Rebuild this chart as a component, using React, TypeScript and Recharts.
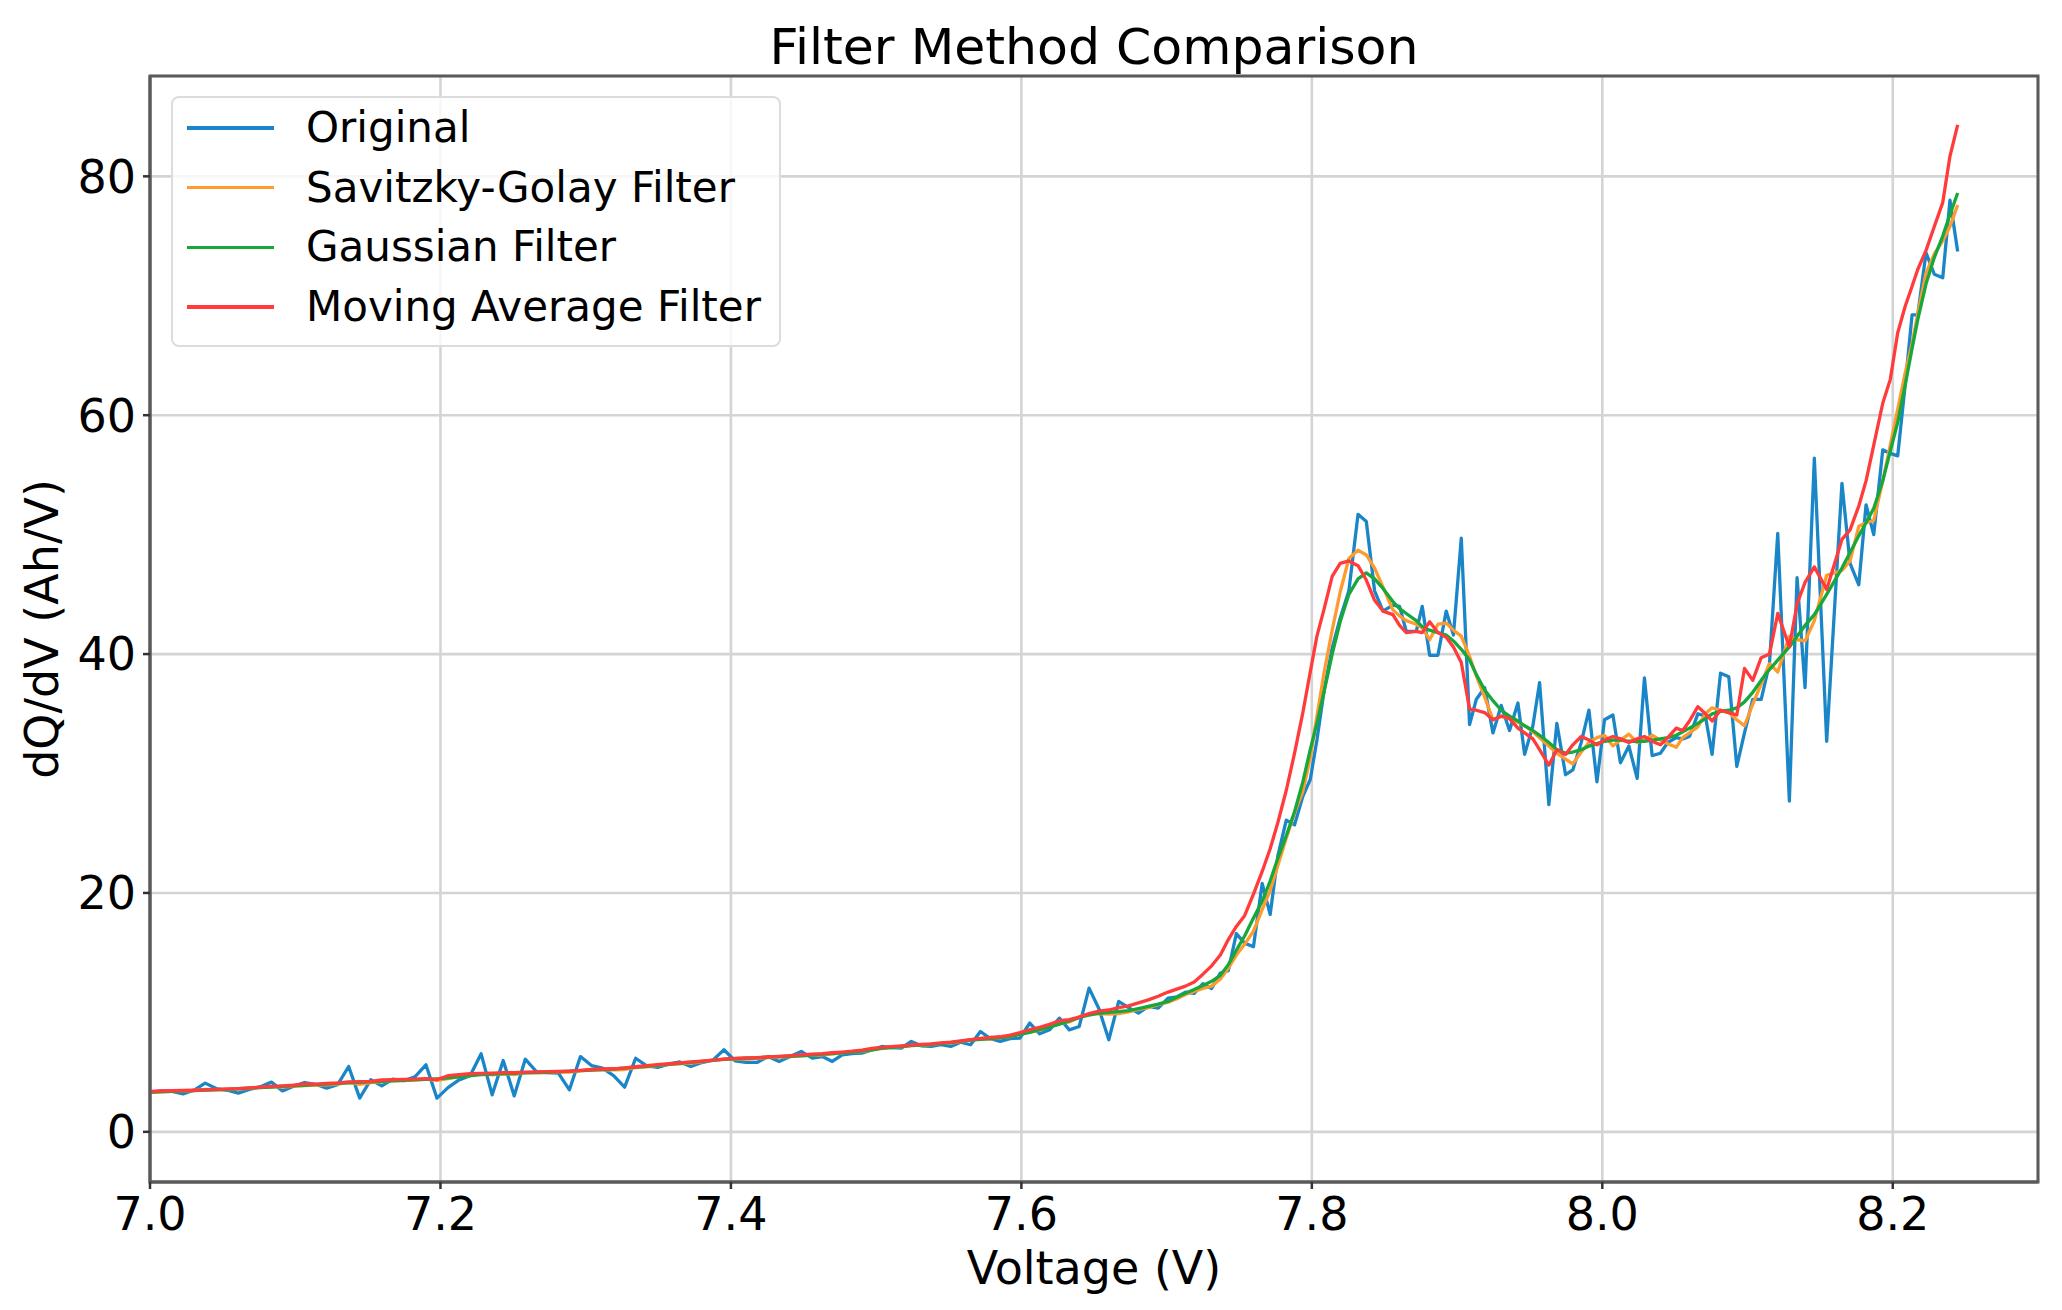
import { LineChart, Line, XAxis, YAxis, CartesianGrid, Legend, ReferenceArea } from 'recharts';

// Voltage (V) of each sample (spacing narrows where dQ/dV is high)
const voltage = [
  // 7.00 - 7.46
  7.0000, 7.0076, 7.0152, 7.0228, 7.0304, 7.0380, 7.0456, 7.0532, 7.0608, 7.0684,
  7.0760, 7.0836, 7.0912, 7.0988, 7.1064, 7.1140, 7.1216, 7.1292, 7.1368, 7.1444,
  7.1520, 7.1596, 7.1672, 7.1748, 7.1824, 7.1900, 7.1976, 7.2052, 7.2128, 7.2204,
  7.2280, 7.2356, 7.2432, 7.2508, 7.2584, 7.2660, 7.2736, 7.2812, 7.2888, 7.2964,
  7.3040, 7.3116, 7.3192, 7.3268, 7.3344, 7.3420, 7.3496, 7.3572, 7.3648, 7.3724,
  7.3800, 7.3876, 7.3952, 7.4028, 7.4104, 7.4180, 7.4256, 7.4332, 7.4408, 7.4484,
  7.4560,
  // 7.46 - 7.70
  7.4630, 7.4698, 7.4766, 7.4834, 7.4902, 7.4970, 7.5038, 7.5106, 7.5174, 7.5242,
  7.5310, 7.5378, 7.5446, 7.5514, 7.5582, 7.5650, 7.5718, 7.5786, 7.5854, 7.5922,
  7.5990, 7.6058, 7.6126, 7.6194, 7.6262, 7.6330, 7.6398, 7.6466, 7.6534, 7.6602,
  7.6670, 7.6738, 7.6806, 7.6874, 7.6942, 7.7010,
  // 7.70 - 7.80
  7.7070, 7.7130, 7.7190, 7.7250, 7.7310, 7.7370, 7.7425, 7.7480, 7.7537, 7.7598,
  7.7658, 7.7713, 7.7766, 7.7824, 7.7881, 7.7938, 7.7989,
  // 7.80 - 8.245
  7.8035, 7.8085, 7.8140, 7.8195, 7.8255, 7.8318, 7.8375, 7.8432, 7.8490, 7.8558,
  7.8604, 7.8650, 7.8719, 7.8760, 7.8811, 7.8868, 7.8925, 7.8975, 7.9029, 7.9086,
  7.9132, 7.9190, 7.9247, 7.9304, 7.9361, 7.9419, 7.9465, 7.9522, 7.9568, 7.9632,
  7.9687, 7.9747, 7.9797, 7.9855, 7.9908, 7.9963, 8.0015, 8.0073, 8.0125, 8.0183,
  8.0240, 8.0290, 8.0343, 8.0400, 8.0451, 8.0509, 8.0554, 8.0600, 8.0658, 8.0710,
  8.0756, 8.0814, 8.0871, 8.0926, 8.0979, 8.1036, 8.1094, 8.1151, 8.1208, 8.1288,
  8.1341, 8.1396, 8.1460, 8.1545, 8.1650, 8.1706, 8.1766, 8.1816, 8.1869, 8.1931,
  8.1983, 8.2034, 8.2085, 8.2133, 8.2172, 8.2229, 8.2286, 8.2344, 8.2394, 8.2447,
];

const original = [
  3.30, 3.42, 3.38, 3.18, 3.50, 4.08, 3.62, 3.48, 3.24, 3.55,
  3.78, 4.16, 3.43, 3.82, 4.13, 3.98, 3.66, 3.95, 5.47, 2.82,
  4.36, 3.85, 4.42, 4.28, 4.60, 5.61, 2.82, 3.70, 4.35, 4.70,
  6.53, 3.10, 5.97, 3.01, 6.08, 5.05, 4.96, 4.91, 3.52, 6.30,
  5.55, 5.33, 4.70, 3.74, 6.16, 5.52, 5.40, 5.67, 5.85, 5.47,
  5.80, 6.00, 6.87, 5.95, 5.81, 5.81, 6.31, 5.89, 6.30, 6.73,
  6.17,
  6.30, 5.89, 6.45, 6.55, 6.59, 6.85, 7.15, 7.05, 7.01, 7.57,
  7.20, 7.15, 7.30, 7.15, 7.50, 7.29, 8.40, 7.80, 7.57, 7.80,
  7.85, 9.11, 8.21, 8.54, 9.52, 8.54, 8.82, 12.03, 10.30, 7.71,
  10.92, 10.40, 9.94, 10.50, 10.36, 11.20,
  11.30, 11.70, 11.60, 12.40, 12.00, 13.30, 13.50, 16.60, 15.80, 15.50,
  20.80, 18.20, 23.10, 26.10, 25.70, 28.10, 29.50,
  32.8, 37.0, 40.5, 43.0, 45.3, 51.7, 51.1, 45.3, 43.6, 44.1,
  44.0, 41.9, 41.9, 44.0, 39.9, 39.9, 43.6, 41.6, 49.7, 34.1,
  36.2, 37.2, 33.4, 35.7, 33.6, 35.9, 31.6, 34.0, 37.6, 27.4,
  34.2, 29.9, 30.3, 32.6, 35.3, 29.3, 34.5, 34.9, 30.9, 32.3,
  29.6, 38.0, 31.5, 31.7, 32.6, 33.0, 32.9, 33.1, 35.0, 34.8,
  31.6, 38.4, 38.1, 30.6, 33.4, 36.2, 36.2, 39.2, 50.1, 27.7,
  46.4, 37.2, 56.4, 32.7, 54.3, 47.6, 45.8, 52.5, 50.0, 57.1,
  56.8, 56.6, 62.5, 68.4, 68.4, 73.6, 71.8, 71.5, 78.0, 73.7,
];

const savitzkyGolay = [
  3.30, 3.36, 3.38, 3.38, 3.46, 3.55, 3.54, 3.54, 3.58, 3.64,
  3.72, 3.78, 3.74, 3.82, 3.88, 3.92, 3.94, 4.00, 4.15, 3.98,
  4.12, 4.18, 4.30, 4.28, 4.36, 4.42, 4.30, 4.45, 4.62, 4.70,
  4.86, 4.78, 4.88, 4.80, 4.95, 4.95, 4.96, 5.00, 5.00, 5.10,
  5.18, 5.20, 5.18, 5.22, 5.38, 5.45, 5.55, 5.64, 5.70, 5.75,
  5.86, 6.00, 6.08, 6.08, 6.10, 6.15, 6.22, 6.25, 6.30, 6.38,
  6.40,
  6.45, 6.52, 6.62, 6.70, 6.72, 6.85, 7.00, 7.08, 7.12, 7.24,
  7.25, 7.30, 7.40, 7.42, 7.55, 7.70, 7.78, 7.76, 7.88, 7.98,
  8.18, 8.38, 8.50, 8.80, 9.05, 9.20, 9.62, 9.85, 9.90, 9.85,
  9.90, 10.05, 10.25, 10.40, 10.65, 10.85,
  11.15, 11.50, 11.75, 12.00, 12.20, 12.80, 13.70, 14.80, 15.70, 16.80,
  18.60, 20.20, 22.30, 24.60, 26.70, 28.50, 31.30,
  34.8, 38.5, 42.0, 45.2, 48.0, 48.7, 48.3, 47.2, 45.6, 43.7,
  43.2, 42.8, 42.5, 42.2, 41.2, 42.5, 42.6, 42.0, 41.5, 39.8,
  38.2, 36.4, 34.5, 34.8, 34.6, 34.3, 34.0, 33.5, 33.0, 32.3,
  31.7, 31.2, 30.8, 31.8, 32.6, 33.0, 33.2, 32.3, 32.8, 33.3,
  32.6, 32.8, 33.2, 32.8, 32.5, 32.2, 33.0, 33.4, 33.9, 35.0,
  35.5, 35.3, 35.1, 34.5, 34.0, 35.8, 37.5, 39.2, 38.5, 41.5,
  41.2, 41.1, 42.8, 46.6, 47.0, 47.8, 50.7, 51.0, 51.2, 54.5,
  57.5, 60.5, 63.5, 66.0, 68.5, 71.9, 73.5, 74.6, 75.8, 77.6,
];

const gaussian = [
  3.32, 3.35, 3.39, 3.42, 3.45, 3.49, 3.52, 3.56, 3.61, 3.66,
  3.70, 3.75, 3.80, 3.85, 3.90, 3.95, 4.00, 4.05, 4.10, 4.14,
  4.18, 4.22, 4.27, 4.31, 4.35, 4.39, 4.44, 4.51, 4.61, 4.70,
  4.79, 4.83, 4.86, 4.89, 4.93, 4.96, 4.99, 5.03, 5.08, 5.12,
  5.17, 5.22, 5.26, 5.33, 5.41, 5.49, 5.57, 5.65, 5.74, 5.82,
  5.90, 5.98, 6.06, 6.12, 6.16, 6.20, 6.25, 6.29, 6.33, 6.37,
  6.42,
  6.50, 6.56, 6.61, 6.67, 6.75, 6.87, 6.98, 7.06, 7.14, 7.21,
  7.27, 7.33, 7.39, 7.47, 7.58, 7.69, 7.75, 7.80, 7.86, 8.00,
  8.16, 8.33, 8.55, 8.77, 9.02, 9.28, 9.56, 9.78, 9.93, 10.00,
  10.06, 10.15, 10.32, 10.50, 10.70, 10.92,
  11.27, 11.60, 11.92, 12.25, 12.60, 13.10, 14.00, 15.20, 16.40, 17.90,
  19.30, 21.00, 22.90, 24.80, 26.80, 29.30, 32.00,
  34.2, 36.9, 40.0, 42.7, 45.0, 46.3, 46.8, 46.3, 45.5, 44.4,
  43.8, 43.4, 42.8, 42.3, 42.0, 41.8, 41.6, 41.1, 40.4, 39.5,
  38.3, 37.0, 36.1, 35.3, 34.8, 34.4, 34.0, 33.6, 33.2, 32.6,
  32.0, 31.7, 31.8, 32.0, 32.3, 32.5, 32.7, 32.8, 32.8, 32.7,
  32.7, 32.7, 32.8, 32.9, 33.0, 33.2, 33.5, 33.8, 34.2, 34.6,
  35.0, 35.2, 35.3, 35.5, 36.0, 36.8, 37.8, 38.7, 39.5, 40.6,
  41.5, 42.4, 43.3, 45.0, 47.2, 48.5, 49.9, 51.0, 52.2, 54.5,
  57.0, 59.4, 62.5, 65.6, 68.0, 71.0, 73.2, 75.0, 76.8, 78.6,
];

const movingAverage = [
  3.38, 3.42, 3.44, 3.46, 3.48, 3.52, 3.56, 3.60, 3.62, 3.68,
  3.74, 3.80, 3.84, 3.90, 4.02, 4.00, 4.05, 4.10, 4.18, 4.20,
  4.22, 4.34, 4.36, 4.40, 4.42, 4.45, 4.38, 4.70, 4.78, 4.88,
  4.90, 4.92, 4.95, 4.96, 5.00, 5.02, 5.04, 5.05, 5.08, 5.15,
  5.22, 5.26, 5.28, 5.35, 5.45, 5.55, 5.62, 5.70, 5.78, 5.86,
  5.92, 6.00, 6.08, 6.15, 6.18, 6.22, 6.28, 6.32, 6.38, 6.44,
  6.50,
  6.55, 6.62, 6.68, 6.75, 6.85, 6.98, 7.08, 7.14, 7.20, 7.27,
  7.32, 7.37, 7.44, 7.52, 7.62, 7.72, 7.82, 7.90, 7.96, 8.10,
  8.30, 8.55, 8.75, 9.00, 9.30, 9.40, 9.60, 9.90, 10.10, 10.20,
  10.40, 10.55, 10.80, 11.05, 11.35, 11.70,
  11.95, 12.20, 12.55, 13.20, 13.90, 14.80, 16.10, 17.20, 18.10, 19.90,
  21.80, 23.70, 25.90, 28.60, 31.70, 35.10, 38.50,
  41.5, 43.8, 46.5, 47.6, 47.8, 47.4, 46.2, 44.5, 43.6, 43.3,
  42.4, 41.8, 41.9, 41.8, 42.7, 41.8, 41.4, 40.6, 39.3, 35.4,
  35.3, 35.1, 34.5, 34.8, 34.6, 33.8, 33.4, 32.9, 32.0, 30.7,
  32.0, 31.6, 32.4, 33.1, 32.8, 32.4, 32.8, 33.1, 32.9, 32.6,
  32.9, 33.1, 32.7, 32.4, 33.0, 33.8, 33.6, 34.4, 35.6, 35.0,
  34.4, 35.3, 35.1, 34.9, 38.8, 37.8, 39.7, 40.0, 43.4, 40.6,
  44.2, 46.0, 47.3, 45.4, 49.6, 50.4, 52.4, 54.5, 57.5, 61.0,
  63.0, 66.9, 69.1, 70.8, 72.2, 73.8, 75.8, 77.8, 81.7, 84.3,
];

const xTicks = [7.0, 7.2, 7.4, 7.6, 7.8, 8.0, 8.2];
const yTicks = [0, 20, 40, 60, 80];

const series = [
  { key: 'original', name: 'Original', color: '#1a86c8' },
  { key: 'savgol', name: 'Savitzky-Golay Filter', color: '#ff9a2e' },
  { key: 'gaussian', name: 'Gaussian Filter', color: '#17a83c' },
  { key: 'movingAvg', name: 'Moving Average Filter', color: '#ff3b3b' },
];

const data = voltage.map((v, i) => ({
  v,
  original: original[i],
  savgol: savitzkyGolay[i],
  gaussian: gaussian[i],
  movingAvg: movingAverage[i],
}));

const FONT = '"DejaVu Sans", sans-serif';

function LegendBox() {
  return (
    <div
      style={{
        position: 'relative',
        width: 610,
        height: 251,
        boxSizing: 'border-box',
        background: 'rgba(255,255,255,0.8)',
        border: '2px solid #dcdcdc',
        borderRadius: 8,
        fontFamily: FONT,
      }}
    >
      {series.map((s, i) => (
        <div
          key={s.key}
          style={{
            position: 'absolute',
            left: 14,
            top: 0 + i * 59.7,
            height: 60,
            display: 'flex',
            alignItems: 'center',
          }}
        >
          <div style={{ width: 87, height: 3.5, background: s.color }} />
          <span style={{ marginLeft: 32, fontSize: 42, lineHeight: '60px', color: '#000', whiteSpace: 'nowrap' }}>
            {s.name}
          </span>
        </div>
      ))}
    </div>
  );
}

export default function App() {
  return (
    <div style={{ position: 'absolute', left: 0, top: 0, width: 2062, height: 1310, background: '#fff' }}>
      <LineChart width={2062} height={1310} data={data} margin={{ top: 76, right: 24, bottom: 28, left: 50 }}>
        <CartesianGrid stroke="#d4d4d4" strokeWidth={2.6} />
        <XAxis
          dataKey="v"
          type="number"
          domain={[7.0, 8.3]}
          ticks={xTicks}
          interval={0}
          height={100}
          tickFormatter={(v: number) => v.toFixed(1)}
          tickSize={7}
          tickMargin={8}
          tick={{ fontSize: 46, fill: '#000', fontFamily: FONT }}
          tickLine={{ stroke: '#333', strokeWidth: 2.5 }}
          axisLine={{ stroke: '#5a5a5a', strokeWidth: 3 }}
        />
        <YAxis
          type="number"
          domain={[-4.2, 88.4]}
          ticks={yTicks}
          interval={0}
          width={100}
          tickSize={7}
          tickMargin={7}
          tick={{ fontSize: 46, fill: '#000', fontFamily: FONT }}
          tickLine={{ stroke: '#333', strokeWidth: 2.5 }}
          axisLine={{ stroke: '#5a5a5a', strokeWidth: 3 }}
        />
        <ReferenceArea x1={7.0} x2={8.3} y1={-4.2} y2={88.4} fill="none" fillOpacity={0} stroke="#5a5a5a" strokeWidth={3} />
        {series.map((s) => (
          <Line
            key={s.key}
            type="linear"
            dataKey={s.key}
            name={s.name}
            stroke={s.color}
            strokeWidth={3.3}
            strokeLinejoin="round"
            dot={false}
            activeDot={false}
            isAnimationActive={false}
          />
        ))}
        <Legend
          layout="horizontal"
          verticalAlign="middle"
          align="center"
          width={610}
          height={251}
          wrapperStyle={{ left: 171, top: 96, width: 610, height: 251 }}
          content={() => <LegendBox />}
        />
      </LineChart>
      <svg
        width={2062}
        height={1310}
        style={{ position: 'absolute', left: 0, top: 0, pointerEvents: 'none' }}
        fontFamily={FONT}
      >
        <text x={1094} y={64} textAnchor="middle" fontSize={50.5} fill="#000">
          Filter Method Comparison
        </text>
        <text x={1094} y={1284} textAnchor="middle" fontSize={46} fill="#000">
          Voltage (V)
        </text>
        <text transform="translate(58, 629) rotate(-90)" textAnchor="middle" fontSize={46} fill="#000">
          dQ/dV (Ah/V)
        </text>
      </svg>
    </div>
  );
}
